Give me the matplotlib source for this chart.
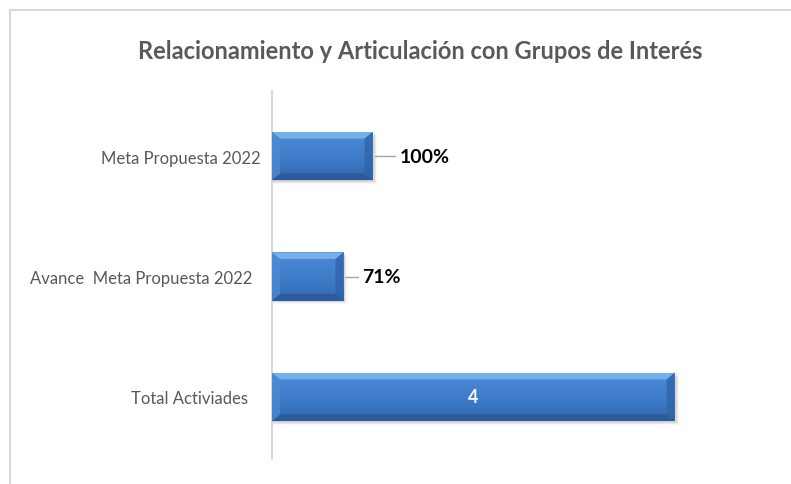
import numpy as np
import matplotlib.pyplot as plt
from matplotlib.patches import Polygon, Rectangle
from matplotlib.lines import Line2D
from matplotlib.colors import LinearSegmentedColormap

# data
categories = ['Total Activiades   ', 'Avance  Meta Propuesta 2022  ', 'Meta Propuesta 2022']
values = [4, 0.71, 1]
value_labels = ['4', '71%', '100%']
title = 'Relacionamiento y Articulación con Grupos de Interés'

plt.rcParams['font.family'] = ['Lato', 'DejaVu Sans']

fig = plt.figure(figsize=(7.91, 4.85), dpi=100)
ax = fig.add_axes([272 / 791, 1 - 460 / 485, 453 / 791, 368 / 485])

# chart frame (only top and left visible)
fig.add_artist(Line2D([10 / 791, 10 / 791], [1 - 11 / 485, 0], color='#d9d9d9', lw=1.5))
fig.add_artist(Line2D([10 / 791, 1], [1 - 11 / 485, 1 - 11 / 485], color='#d9d9d9', lw=1.5))

ypos = np.arange(len(categories))
h = 0.4
bars = ax.barh(ypos, values, height=h, color='#3d7bc6', edgecolor='none', zorder=3)

ax.set_xlim(0, 4.5)
ax.set_ylim(-0.515, 2.54)

# gradient + bevel on each bar
grad = np.linspace(0, 1, 64).reshape(-1, 1)
cmap = LinearSegmentedColormap.from_list('bar', ['#3266ad', '#3b78c4', '#4282cf', '#4a8ad6'])
bx, by = 0.08, 0.055
for b in bars:
    x0, y0 = b.get_x(), b.get_y()
    w, hh = b.get_width(), b.get_height()
    x1, y1 = x0 + w, y0 + hh
    # soft shadow
    for k, a in enumerate([0.08, 0.05, 0.03]):
        ax.add_patch(Rectangle((x0 + 0.01, y0 - 0.012 - 0.01 * k), w + 0.01 * (k + 1), hh,
                               color='black', alpha=a, lw=0, zorder=2))
    im = ax.imshow(grad, extent=[x0, x1, y0, y1], cmap=cmap, aspect='auto', zorder=3.5,
                   origin='lower')
    im.set_clip_path(b)
    ax.add_patch(Polygon([[x0, y1], [x1, y1], [x1 - bx, y1 - by], [x0 + bx, y1 - by]],
                         color='#7db4ec', alpha=0.9, lw=0, zorder=4))
    ax.add_patch(Polygon([[x0, y0], [x1, y0], [x1 - bx, y0 + by], [x0 + bx, y0 + by]],
                         color='#2a5996', alpha=0.85, lw=0, zorder=4))
    ax.add_patch(Polygon([[x0, y0], [x0, y1], [x0 + bx, y1 - by], [x0 + bx, y0 + by]],
                         color='#4d8bd6', alpha=0.7, lw=0, zorder=4))
    ax.add_patch(Polygon([[x1, y0], [x1, y1], [x1 - bx, y1 - by], [x1 - bx, y0 + by]],
                         color='#2f63a6', alpha=0.75, lw=0, zorder=4))

# value labels
ax.text(values[0] / 2, ypos[0], value_labels[0], color='white', fontsize=13,
        fontweight='bold', ha='center', va='center', zorder=5)
offsets = [None, 0.19, 0.27]
for i in (1, 2):
    lx = values[i] + offsets[i]
    ax.plot([values[i] + 0.02, lx - 0.05], [ypos[i], ypos[i]], color='#a6a6a6', lw=1, zorder=5)
    ax.text(lx, ypos[i], value_labels[i], color='black', fontsize=14,
            fontweight='bold', ha='left', va='center', zorder=5)

ax.set_yticks(ypos)
ax.set_yticklabels(categories, fontsize=12, color='#595959')
ax.tick_params(axis='y', length=0, pad=8)
ax.set_xticks([])
for s in ['top', 'right', 'bottom']:
    ax.spines[s].set_visible(False)
ax.spines['left'].set_color('#d9d9d9')
ax.spines['left'].set_linewidth(1.5)

fig.text(420 / 791, 1 - 52 / 485, title, ha='center', va='center', fontsize=17,
         fontweight='bold', color='#595959')

fig.savefig('out.png', dpi=100)
